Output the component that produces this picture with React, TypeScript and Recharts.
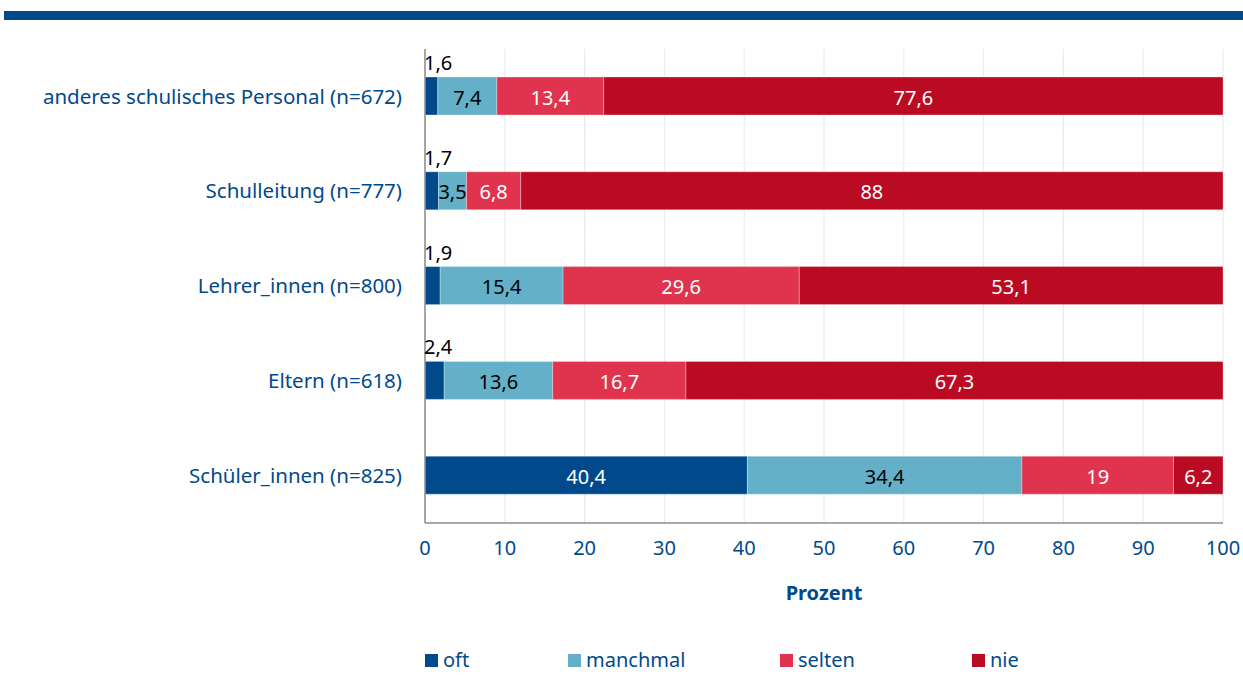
import React from 'react';
import { BarChart, Bar, XAxis, YAxis, CartesianGrid, LabelList } from 'recharts';

const categories = [
  'anderes schulisches Personal (n=672)',
  'Schulleitung (n=777)',
  'Lehrer_innen (n=800)',
  'Eltern (n=618)',
  'Schüler_innen (n=825)',
];
const oft = [1.6, 1.7, 1.9, 2.4, 40.4];
const manchmal = [7.4, 3.5, 15.4, 13.6, 34.4];
const selten = [13.4, 6.8, 29.6, 16.7, 19];
const nie = [77.6, 88, 53.1, 67.3, 6.2];
const xTicks = [0, 10, 20, 30, 40, 50, 60, 70, 80, 90, 100];

const BLUE = '#004a8c';
const FONT = '"Noto Sans", sans-serif';

const seriesDefs = [
  { key: 'oft', color: '#004a8c', text: '#ffffff' },
  { key: 'manchmal', color: '#63b0c8', text: '#000000' },
  { key: 'selten', color: '#e0344e', text: '#ffffff' },
  { key: 'nie', color: '#bb0b23', text: '#ffffff' },
];

const data = categories.map((name, i) => ({
  name,
  oft: oft[i],
  manchmal: manchmal[i],
  selten: selten[i],
  nie: nie[i],
}));

const fmt = (v: number) => String(v).replace('.', ',');

const makeLabel = (textColor: string, outsideSmall: boolean) => (props: any) => {
  const { x, y, width, height, value } = props;
  if (outsideSmall && value < 5) {
    return (
      <text x={x - 1} y={y - 7} fill="#000" fontSize={20} fontFamily={FONT} textAnchor="start">
        {fmt(value)}
      </text>
    );
  }
  return (
    <text
      x={x + width / 2}
      y={y + height / 2 + 1}
      fill={textColor}
      fontSize={20}
      fontFamily={FONT}
      textAnchor="middle"
      dominantBaseline="central"
    >
      {fmt(value)}
    </text>
  );
};

const legendOffsets = [425, 568, 780, 972];

const ChartLegend = () => (
  <div style={{ position: 'absolute', left: 0, top: 646, width: 1243, height: 30, fontFamily: FONT, fontSize: 20, color: BLUE }}>
    {seriesDefs.map((s, i) => (
      <div key={s.key} style={{ position: 'absolute', left: legendOffsets[i], top: 0, display: 'flex', alignItems: 'center' }}>
        <span style={{ display: 'inline-block', width: 13, height: 13, background: s.color, marginRight: 5, marginTop: 2 }} />
        <span>{s.key}</span>
      </div>
    ))}
  </div>
);

export default function App() {
  return (
    <div style={{ position: 'absolute', left: 0, top: 0, width: 1243, height: 697, background: '#fff' }}>
      <div style={{ position: 'absolute', left: 4, top: 11, width: 1239, height: 9, background: BLUE }} />
      <BarChart
        width={1243}
        height={697}
        data={data}
        layout="vertical"
        margin={{ top: 49, right: 20, left: 0, bottom: 94 }}
        barSize={38}
        style={{ fontFamily: FONT }}
      >
        <CartesianGrid horizontal={false} stroke="#e8e8e8" />
        <XAxis
          type="number"
          domain={[0, 100]}
          ticks={xTicks}
          interval={0}
          tickLine={false}
          tickSize={0}
          tickMargin={18}
          height={80}
          axisLine={{ stroke: '#8c8c8c', strokeWidth: 1.5 }}
          tick={{ fill: BLUE, fontSize: 20, fontFamily: FONT }}
          label={{ value: 'Prozent', position: 'insideBottom', offset: 3, fill: BLUE, fontSize: 20, fontWeight: 700, fontFamily: FONT }}
        />
        <YAxis
          type="category"
          dataKey="name"
          width={425}
          tickLine={false}
          tickSize={0}
          tickMargin={23}
          axisLine={{ stroke: '#8c8c8c', strokeWidth: 1.5 }}
          tick={{ fill: BLUE, fontSize: 20.5, fontFamily: FONT }}
        />
        {seriesDefs.map((s) => (
          <Bar
            key={s.key}
            dataKey={s.key}
            stackId="a"
            fill={s.color}
            stroke="#ffffff"
            strokeOpacity={0.3}
            strokeWidth={1}
            isAnimationActive={false}
          >
            <LabelList dataKey={s.key} content={makeLabel(s.text, s.key === 'oft')} />
          </Bar>
        ))}
      </BarChart>
      <ChartLegend />
    </div>
  );
}
